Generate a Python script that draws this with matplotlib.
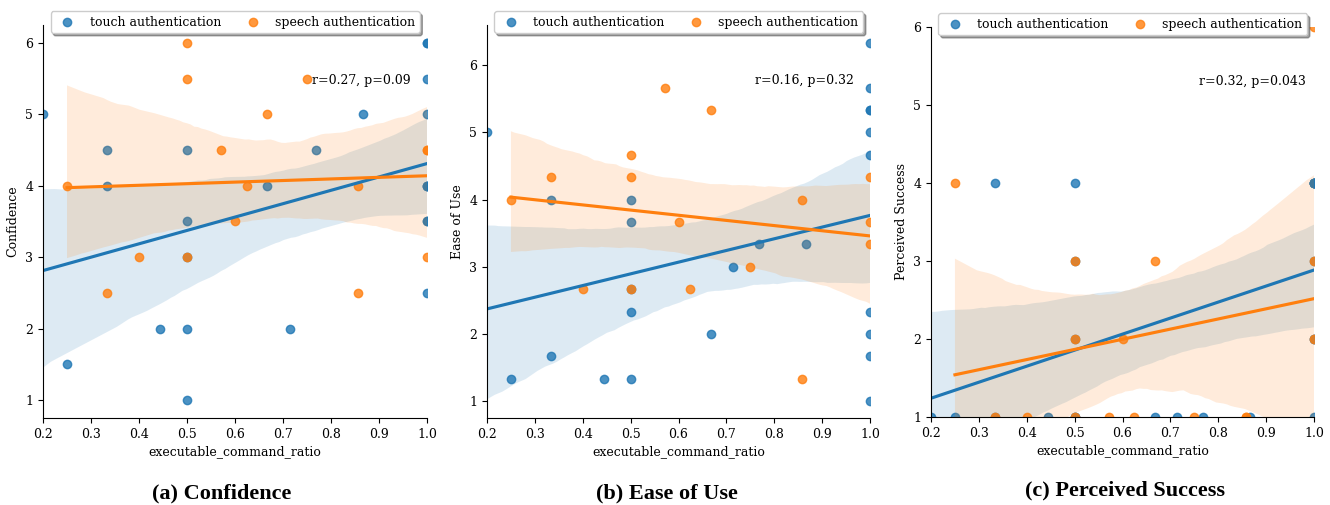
import matplotlib
matplotlib.use("Agg")
import matplotlib.pyplot as plt
import seaborn as sns
import numpy as np

plt.rcParams['font.family'] = ['DejaVu Serif']

# ---- data ----
touch_ratio = [0.2, 0.25, 0.333, 0.333, 0.444, 0.5, 0.5, 0.5, 0.5, 0.5,
               0.667, 0.714, 0.769, 0.867,
               1.0, 1.0, 1.0, 1.0, 1.0, 1.0, 1.0, 1.0, 1.0, 1.0]
speech_ratio = [0.25, 0.333, 0.4, 0.5, 0.5, 0.5, 0.571, 0.6, 0.625, 0.667,
                0.75, 0.857, 0.857, 1.0, 1.0, 1.0]

confidence_touch = [5, 1.5, 4.5, 4, 2, 4.5, 3.5, 3, 2, 1, 4, 2, 4.5, 5,
                    6, 6, 5.5, 5, 4, 4, 4, 3.5, 3.5, 2.5]
confidence_speech = [4, 2.5, 3, 6, 5.5, 3, 4.5, 3.5, 4, 5, 5.5, 4, 2.5,
                     4.5, 4.5, 3]

ease_touch = [5, 1.333, 4, 1.667, 1.333, 4, 3.667, 2.667, 2.333, 1.333,
              2, 3, 3.333, 3.333,
              6.333, 5.667, 5.333, 5.333, 5, 4.667, 2.333, 2, 1.667, 1]
ease_speech = [4, 4.333, 2.667, 4.667, 4.333, 2.667, 5.667, 3.667, 2.667,
               5.333, 3, 4, 1.333, 4.333, 3.667, 3.333]

success_touch = [1, 1, 4, 1, 1, 4, 3, 2, 1, 1, 1, 1, 1, 1,
                 4, 4, 4, 4, 4, 4, 3, 2, 2, 1]
success_speech = [4, 1, 1, 3, 2, 1, 1, 2, 1, 3, 1, 1, 1, 6, 3, 2]

panel_ylabels = ["Confidence", "Ease of Use", "Perceived Success"]
panel_stats = ["r=0.27, p=0.09", "r=0.16, p=0.32", "r=0.32, p=0.043"]
panel_captions = ["(a) Confidence", "(b) Ease of Use", "(c) Perceived Success"]
series_labels = ["touch authentication", "speech authentication"]
x_ticks = [0.2, 0.3, 0.4, 0.5, 0.6, 0.7, 0.8, 0.9, 1.0]
y_ticks = [1, 2, 3, 4, 5, 6]

touch_vals = [confidence_touch, ease_touch, success_touch]
speech_vals = [confidence_speech, ease_speech, success_speech]

fig = plt.figure(figsize=(13.3, 5.05), dpi=100)
positions = [
    [43/1330, 87/505, 384/1330, 393/505],
    [487/1330, 87/505, 383/1330, 393/505],
    [931/1330, 88/505, 383/1330, 390/505],
]
caption_pos = [(222/1330, 12/505), (667/1330, 12/505), (1125/1330, 15/505)]

for i in range(3):
    ax = fig.add_axes(positions[i])
    sns.regplot(x=np.array(touch_ratio), y=np.array(touch_vals[i]), ax=ax,
                color="#1f77b4", label=series_labels[0], seed=1,
                scatter_kws={"s": 36})
    sns.regplot(x=np.array(speech_ratio), y=np.array(speech_vals[i]), ax=ax,
                color="#ff7f0e", label=series_labels[1], seed=1,
                scatter_kws={"s": 36})
    ax.set_xlim(0.2, 1.0)
    if i == 2:
        ax.set_ylim(1, 6)
    else:
        ax.set_ylim(0.75, 6.25 if i == 0 else 6.6)
    ax.set_xticks(x_ticks)
    ax.set_yticks(y_ticks)
    ax.tick_params(labelsize=9)
    ax.set_xlabel("executable_command_ratio", fontsize=9, labelpad=3)
    ax.set_ylabel(panel_ylabels[i], fontsize=9)
    sns.despine(ax=ax)
    ax.text(0.70, 0.86, panel_stats[i], transform=ax.transAxes,
            ha="left", va="center", fontsize=9)
    ax.legend(loc="upper center", bbox_to_anchor=(0.5, 1.035), ncol=2,
              shadow=True, fontsize=9, columnspacing=1.5, borderaxespad=0,
              borderpad=0.35)
    fig.text(caption_pos[i][0], caption_pos[i][1], panel_captions[i],
             ha="center", va="center", fontsize=16, fontweight="bold",
             family=["Liberation Serif"])

fig.savefig("out.png", dpi=100)
